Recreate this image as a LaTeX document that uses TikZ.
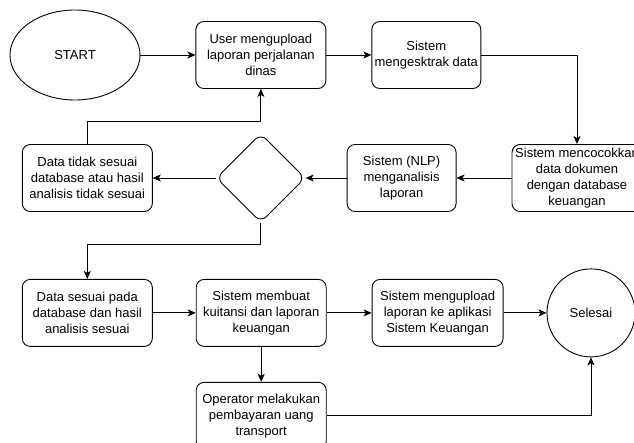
\documentclass[tikz,border=0pt]{standalone}
\usepackage{fontspec}
\setmainfont{Liberation Sans}
\usetikzlibrary{shapes.geometric,arrows.meta,positioning}

\begin{document}
\begin{tikzpicture}[x=1pt,y=1pt,font=\fontsize{13}{16}\selectfont,
  >={Stealth[length=8pt,width=7pt,inset=2pt]},line width=0.9pt,
  box/.style={rounded corners=8pt,draw,align=center,minimum height=67pt,inner sep=1pt},
  wide/.style={box,minimum width=130pt},
  narrow/.style={box,minimum width=109pt},
  term/.style={ellipse,draw,minimum width=130pt,minimum height=90pt},
  stop/.style={circle,draw,minimum size=88pt},
  choice/.style={diamond,draw,rounded corners=8pt,minimum width=89pt,minimum height=89pt,inner sep=0pt}]
\useasboundingbox (0,0) rectangle (634,-443);
\node[term] (start) at (75,-55) {START};
\node[wide,right=55pt of start] (upl) {User mengupload\\laporan perjalanan\\dinas};
\node[narrow,right=45pt of upl] (ext) {Sistem\\mengesktrak data};
\node[wide] (cocok) at (577,-178) {Sistem mencocokkan\\data dokumen\\dengan database\\keuangan};
\node[narrow,left=55pt of cocok] (nlp) {Sistem (NLP)\\menganalisis\\laporan};
\node[choice,left=41pt of nlp] (dec) {};
\node[wide,left=63pt of dec] (tidak) {Data tidak sesuai\\database atau hasil\\analisis tidak sesuai};
\node[wide,below=67pt of tidak] (sesuai) {Data sesuai pada\\database dan hasil\\analisis sesuai};
\node[wide,right=43pt of sesuai] (buat) {Sistem membuat\\kuitansi dan laporan\\keuangan};
\node[wide,right=45pt of buat,minimum width=131pt] (kirim) {Sistem mengupload\\laporan ke aplikasi\\Sistem Keuangan};
\node[stop,right=43pt of kirim] (end) {Selesai};
\node[wide,below=35pt of buat] (opr) {Operator melakukan\\pembayaran uang\\transport};
\draw[->] (start) -- (upl); \draw[->] (upl) -- (ext);
\draw[->] (ext.east) -| (cocok.north);
\draw[->] (cocok) -- (nlp); \draw[->] (nlp) -- (dec); \draw[->] (dec) -- (tidak);
\draw[->] (tidak.north) -- ++(0,23) -| (upl.south);
\draw[->] (dec.south) -- ++(0,-22) -| (sesuai.north);
\draw[->] (sesuai) -- (buat); \draw[->] (buat) -- (kirim); \draw[->] (kirim) -- (end);
\draw[->] (buat) -- (opr);
\draw[->] (opr.east) -| (end.south);
\end{tikzpicture}
\end{document}
